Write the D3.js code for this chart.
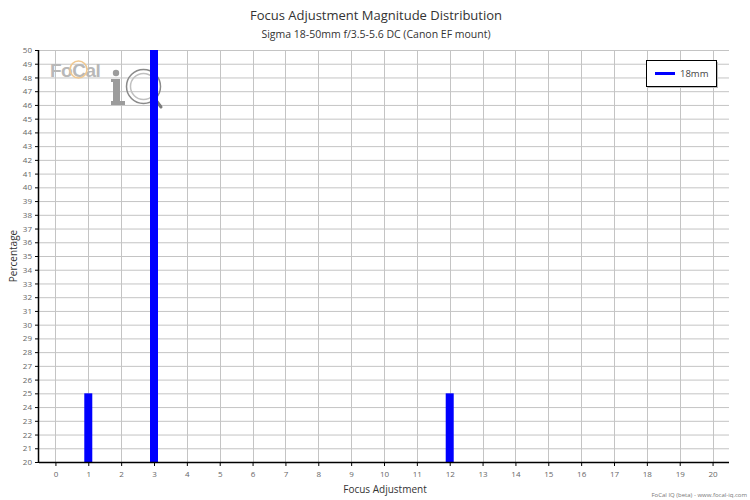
<!DOCTYPE html>
<html>
<head>
<meta charset="utf-8">
<script src="https://cdn.jsdelivr.net/npm/d3@7"></script>
<style>
  body { margin: 0; background: #fff; }
  svg { font-family: "Open Sans", sans-serif; }
</style>
</head>
<body>
<svg id="chart" width="750" height="500"></svg>
<script>
// focus adjustment values and the share of shots at each one
let adjustments = [1, 3, 12];
let percentages = [25, 50, 25];
let xTicks = d3.range(0, 21);
let yTicks = d3.range(20, 51);
let seriesName = "18mm";

let svg = d3.select("#chart"),
    margin = { top: 50, right: 21, bottom: 38, left: 39 },
    width = 750 - margin.left - margin.right,
    height = 500 - margin.top - margin.bottom;

let x = d3.scaleLinear().domain([-0.5, 20.5]).range([0, width]);
let y = d3.scaleLinear().domain([20, 50]).range([height, 0]);

svg.append("text")
    .attr("x", 376).attr("y", 20)
    .attr("text-anchor", "middle")
    .attr("font-size", 13).attr("fill", "#333")
    .text("Focus Adjustment Magnitude Distribution");
svg.append("text")
    .attr("x", 376).attr("y", 38)
    .attr("text-anchor", "middle")
    .attr("font-size", 10.5).attr("fill", "#333")
    .text("Sigma 18-50mm f/3.5-5.6 DC (Canon EF mount)");

let g = svg.append("g").attr("transform", "translate(" + margin.left + "," + margin.top + ")");

// grid
g.append("g").selectAll("line")
    .data(yTicks)
    .enter().append("line")
    .attr("x1", 0).attr("x2", width)
    .attr("y1", d => y(d) + 0.5).attr("y2", d => y(d) + 0.5)
    .attr("stroke", "#c4c4c4").attr("stroke-width", 1);
g.append("g").selectAll("line")
    .data(xTicks)
    .enter().append("line")
    .attr("y1", 0).attr("y2", height)
    .attr("x1", d => Math.round(x(d)) + 0.5).attr("x2", d => Math.round(x(d)) + 0.5)
    .attr("stroke", "#c4c4c4").attr("stroke-width", 1);

// watermark logo
let logo = g.append("g");
logo.append("text")
    .attr("x", 11).attr("y", 27)
    .attr("font-size", 19).attr("font-weight", "bold")
    .attr("font-family", "Liberation Sans, sans-serif")
    .attr("fill", "#b8b8b8").attr("letter-spacing", -0.5)
    .text("FoCal");
logo.append("circle")
    .attr("cx", 39.5).attr("cy", 19.5).attr("r", 8.5)
    .attr("fill", "none").attr("stroke", "#f0c890").attr("stroke-width", 1.6);
// the "i"
logo.append("circle")
    .attr("cx", 77).attr("cy", 23).attr("r", 3.2)
    .attr("fill", "#9c9c9c");
logo.append("rect")
    .attr("x", 74).attr("y", 29).attr("width", 7).attr("height", 24)
    .attr("fill", "#9c9c9c");
logo.append("rect")
    .attr("x", 72).attr("y", 29).attr("width", 4).attr("height", 3)
    .attr("fill", "#9c9c9c");
logo.append("rect")
    .attr("x", 72).attr("y", 51).attr("width", 14).attr("height", 4)
    .attr("fill", "#9c9c9c");
// the magnifier
logo.append("circle")
    .attr("cx", 104.5).attr("cy", 36.5).attr("r", 17)
    .attr("fill", "none").attr("stroke", "#8a8a8a").attr("stroke-width", 1.5);
logo.append("circle")
    .attr("cx", 104.5).attr("cy", 36.5).attr("r", 13)
    .attr("fill", "none").attr("stroke", "#c0c0c0").attr("stroke-width", 1.5);
logo.append("line")
    .attr("x1", 116).attr("y1", 49).attr("x2", 122).attr("y2", 57)
    .attr("stroke", "#7a7a7a").attr("stroke-width", 3).attr("stroke-linecap", "round");

// bars
let barWidth = 8;
g.append("g").selectAll("rect")
    .data(adjustments)
    .enter().append("rect")
    .attr("x", d => x(d) - barWidth / 2)
    .attr("y", (d, i) => y(Math.min(percentages[i], 50)))
    .attr("width", barWidth)
    .attr("height", (d, i) => height - y(Math.min(percentages[i], 50)))
    .attr("fill", "#0000ff");

// axes
let xAxis = g.append("g")
    .attr("transform", "translate(0," + height + ")")
    .call(d3.axisBottom(x).tickValues(xTicks).tickSize(4).tickPadding(5).tickFormat(d3.format("d")));
let yAxis = g.append("g")
    .call(d3.axisLeft(y).tickValues(yTicks).tickSize(4).tickPadding(3).tickFormat(d3.format("d")));

[xAxis, yAxis].forEach(ax => {
    ax.select(".domain").attr("stroke", "#000").attr("stroke-width", 1.5);
    ax.selectAll(".tick line").attr("stroke", "#000");
    ax.selectAll(".tick text").attr("fill", "#666").attr("font-size", 8)
        .attr("font-family", "Open Sans, sans-serif");
});
xAxis.select(".domain").attr("d", "M0,0.5H" + width);
yAxis.select(".domain").attr("d", "M-0.5,0V" + height);

svg.append("text")
    .attr("x", 385).attr("y", 493)
    .attr("text-anchor", "middle")
    .attr("font-size", 10).attr("fill", "#333")
    .text("Focus Adjustment");
svg.append("text")
    .attr("transform", "translate(17,256) rotate(-90)")
    .attr("text-anchor", "middle")
    .attr("font-size", 10).attr("fill", "#333")
    .text("Percentage");

// legend
let legend = svg.append("g").attr("transform", "translate(646,60)");
legend.append("rect")
    .attr("x", 2).attr("y", 2).attr("width", 70).attr("height", 26)
    .attr("fill", "#bbb");
legend.append("rect")
    .attr("x", 0.5).attr("y", 0.5).attr("width", 70).attr("height", 26)
    .attr("fill", "#fff").attr("stroke", "#000").attr("stroke-width", 1);
legend.append("line")
    .attr("x1", 9).attr("x2", 29).attr("y1", 13.5).attr("y2", 13.5)
    .attr("stroke", "#0000ff").attr("stroke-width", 3);
legend.append("text")
    .attr("x", 34).attr("y", 17)
    .attr("font-size", 9.5).attr("fill", "#444")
    .text(seriesName);

svg.append("text")
    .attr("x", 747).attr("y", 497)
    .attr("text-anchor", "end")
    .attr("font-size", 6).attr("fill", "#777")
    .text("FoCal IQ (beta) - www.focal-iq.com");
</script>
</body>
</html>
